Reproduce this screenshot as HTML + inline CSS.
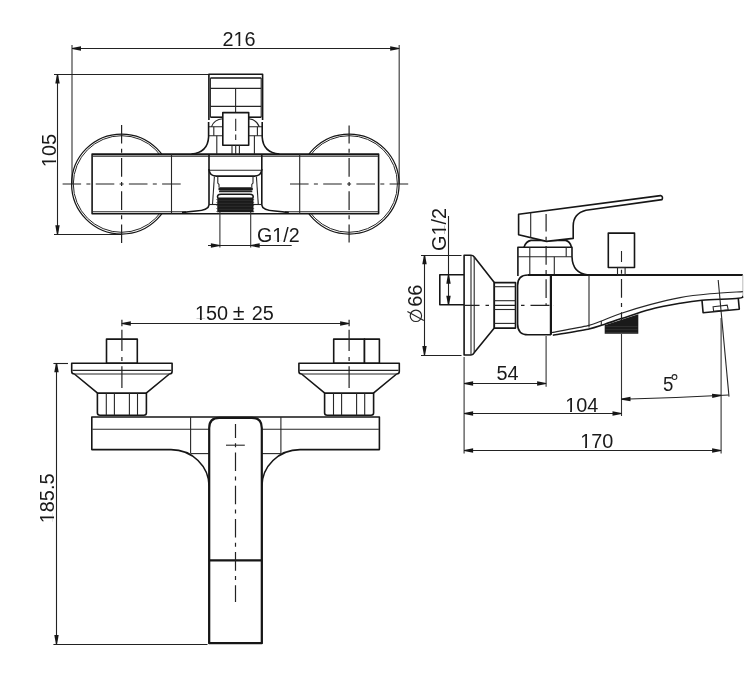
<!DOCTYPE html>
<html><head><meta charset="utf-8"><style>
html,body{margin:0;padding:0;background:#fff;width:748px;height:677px;overflow:hidden}
svg{display:block;will-change:transform}
.o{stroke:#161616;stroke-width:1.6;fill:none;stroke-linejoin:round}
.ob{stroke:#161616;stroke-width:2.2;fill:none;stroke-linejoin:round}
.t{stroke:#262626;stroke-width:1.1;fill:none}
.e{stroke:#333;stroke-width:1.1;fill:none}
.eg{stroke:#444;stroke-width:1.2;fill:none}
.e2{stroke:#aaa;stroke-width:0.8;fill:none}
.d{stroke:#222;stroke-width:1.1;fill:none}
.c{stroke:#222;stroke-width:1.2;fill:none;stroke-dasharray:18.6 5.3 4 5.3}
.wh{fill:#fff;stroke:none}
.ar{fill:#161616;stroke:none}
.rib{stroke:#3c3c3c;stroke-width:0.6;fill:none}
.fl{fill:#1a1a1a;stroke:none}
text{font-family:"Liberation Sans",sans-serif;fill:#1a1a1a}
</style></head><body>
<svg width="748" height="677" viewBox="0 0 748 677">
<line x1="72" y1="45" x2="72" y2="184" class="eg"/>
<line x1="399.2" y1="45" x2="399.2" y2="184" class="eg"/>
<line x1="72" y1="48.5" x2="399.2" y2="48.5" class="d"/>
<path d="M72,47.9 L81,46.3 L81,50.7 L72,49.1 Z" class="ar"/>
<path d="M399.2,49.1 L390.2,50.7 L390.2,46.3 L399.2,47.9 Z" class="ar"/>
<g transform="translate(239,45.7) scale(0.955,1)"><text x="0" y="0" font-size="20.8" text-anchor="middle">216</text><rect x="-4.95" y="-1.87" width="4.35" height="2.81" class="wh"/><rect x="1.31" y="-1.87" width="4.14" height="2.81" class="wh"/></g>
<line x1="54" y1="74.5" x2="208.9" y2="74.5" class="d"/>
<line x1="54" y1="234.5" x2="121.6" y2="234.5" class="d"/>
<line x1="57.5" y1="74.5" x2="57.5" y2="234.2" class="d"/>
<path d="M58.1,74.5 L59.7,83.5 L55.3,83.5 L56.9,74.5 Z" class="ar"/>
<path d="M56.9,234.2 L55.3,225.2 L59.7,225.2 L58.1,234.2 Z" class="ar"/>
<g transform="translate(55.6,150.6) rotate(-90) scale(0.955,1)"><text x="0" y="0" font-size="20.8" text-anchor="middle">105</text><rect x="-16.52" y="-1.87" width="4.35" height="2.81" class="wh"/><rect x="-10.25" y="-1.87" width="4.14" height="2.81" class="wh"/></g>
<circle cx="121.6" cy="184" r="50" class="o" style="stroke-width:1.25"/>
<circle cx="121.6" cy="184" r="48.3" class="t" style="stroke-width:1"/>
<circle cx="349.1" cy="184" r="50" class="o" style="stroke-width:1.25"/>
<circle cx="349.1" cy="184" r="48.3" class="t" style="stroke-width:1"/>
<rect x="92.1" y="154.1" width="286.5" height="59.6" class="o" style="fill:#fff"/>
<line x1="92.8" y1="156.1" x2="377.9" y2="156.1" class="t"/>
<line x1="92.8" y1="211.7" x2="186" y2="211.7" class="t"/>
<line x1="285" y1="211.7" x2="377.9" y2="211.7" class="t"/>
<line x1="171.5" y1="154.1" x2="171.5" y2="213.7" class="t"/>
<line x1="299.7" y1="154.1" x2="299.7" y2="213.7" class="t"/>
<line x1="62.6" y1="184" x2="181.7" y2="184" class="c" stroke-dashoffset="0.1"/>
<line x1="121.6" y1="125" x2="121.6" y2="243" class="c" stroke-dashoffset="0.1"/>
<line x1="290" y1="184" x2="409" y2="184" class="c" stroke-dashoffset="33.2"/>
<line x1="349.1" y1="125.4" x2="349.1" y2="242.4" class="c" stroke-dashoffset="0.5"/>
<path d="M208.9,120 L208.9,74.3 L262.6,74.3 L262.6,120" class="o" style="fill:#fff"/>
<line x1="210.4" y1="78" x2="261.2" y2="78" class="o"/>
<line x1="210.4" y1="78" x2="210.4" y2="117.2" class="t"/>
<line x1="261.2" y1="78" x2="261.2" y2="117.2" class="t"/>
<line x1="210.4" y1="88.4" x2="261.2" y2="88.4" class="t"/>
<line x1="210.4" y1="106.4" x2="261.2" y2="106.4" class="t"/>
<line x1="235.6" y1="88.4" x2="235.6" y2="112.6" class="t"/>
<line x1="210.4" y1="117.2" x2="222.8" y2="117.2" class="o"/>
<line x1="248.7" y1="117.2" x2="261.2" y2="117.2" class="o"/>
<path d="M208.6,126.8 L222.8,126.8 M208.6,135.7 L222.8,135.7" class="t"/>
<path d="M248.7,126.8 L262.2,126.8 M248.7,135.7 L262.2,135.7" class="t"/>
<line x1="213.8" y1="126.8" x2="213.8" y2="135.7" class="t"/>
<line x1="257.4" y1="126.8" x2="257.4" y2="135.7" class="t"/>
<path d="M211.5,126.8 Q214,119.5 222.8,118.8" class="t"/>
<path d="M259.3,126.8 Q256.8,119.5 248.7,118.8" class="t"/>
<line x1="216.8" y1="135.7" x2="216.8" y2="154.1" class="t"/>
<line x1="254.4" y1="135.7" x2="254.4" y2="154.1" class="t"/>
<path d="M208.6,122 L208.6,137 Q207.8,152.5 191.5,154.1" class="o"/>
<path d="M262.2,122 L262.2,137 Q263,152.5 279.3,154.1" class="o"/>
<rect x="222.8" y="112.6" width="25.9" height="32.7" class="o" style="fill:#fff"/>
<line x1="235.7" y1="118.8" x2="235.7" y2="131" class="t"/>
<line x1="235.7" y1="134.5" x2="235.7" y2="140" class="t"/>
<line x1="232" y1="145.3" x2="232" y2="154.1" class="t"/>
<line x1="239.4" y1="145.3" x2="239.4" y2="154.1" class="t"/>
<line x1="235.7" y1="145.3" x2="235.7" y2="154.1" class="t"/>
<path d="M209,154.1 L209,169.5 Q209.6,176.1 216.5,176.1 L254.3,176.1 Q261.2,176.1 261.8,169.5 L261.8,154.1" class="o"/>
<line x1="209.5" y1="170.3" x2="261.3" y2="170.3" class="t"/>
<path d="M209,169 L209,205 Q208.6,210.2 196,211 Q188,211.6 182,212.6" class="o"/>
<path d="M261.8,169 L261.8,205 Q262.2,210.2 274.8,211 Q282.8,211.6 288.8,212.6" class="o"/>
<line x1="214.4" y1="176.5" x2="212.5" y2="204.5" class="t"/>
<line x1="256.4" y1="176.5" x2="258.3" y2="204.5" class="t"/>
<line x1="209" y1="204.5" x2="219" y2="204.5" class="t"/>
<line x1="251.8" y1="204.5" x2="261.8" y2="204.5" class="t"/>
<path d="M217.8,176.5 L217.8,183 L219,184.5 L219,187.5" class="t"/>
<path d="M253,176.5 L253,183 L251.8,184.5 L251.8,187.5" class="t"/>
<rect x="218.3" y="187.2" width="34.7" height="3.6" rx="1.8" class="fl"/>
<line x1="219" y1="191.6" x2="252.3" y2="191.6" class="t"/>
<path d="M217.3,212.3 L217.3,197.5 L253.4,197.5 L253.4,212.3 Z" class="fl"/>
<path d="M217.8,198 Q216.5,194.3 221,194.3 L249.7,194.3 Q254.2,194.3 252.9,198" class="o"/>
<line x1="218.5" y1="200.3" x2="252.2" y2="200.3" class="rib"/>
<line x1="218.5" y1="203.3" x2="252.2" y2="203.3" class="rib"/>
<line x1="218.5" y1="206.3" x2="252.2" y2="206.3" class="rib"/>
<line x1="218.5" y1="209.3" x2="252.2" y2="209.3" class="rib"/>
<path d="M217.3,198.5 L216.4,199.5 L217.3,200.5 Z M253.4,198.5 L254.3,199.5 L253.4,200.5 Z" class="fl"/>
<path d="M217.3,201.5 L216.4,202.5 L217.3,203.5 Z M253.4,201.5 L254.3,202.5 L253.4,203.5 Z" class="fl"/>
<path d="M217.3,204.5 L216.4,205.5 L217.3,206.5 Z M253.4,204.5 L254.3,205.5 L253.4,206.5 Z" class="fl"/>
<path d="M217.3,207.5 L216.4,208.5 L217.3,209.5 Z M253.4,207.5 L254.3,208.5 L253.4,209.5 Z" class="fl"/>
<path d="M217.3,210.5 L216.4,211.5 L217.3,212.5 Z M253.4,210.5 L254.3,211.5 L253.4,212.5 Z" class="fl"/>
<line x1="219.9" y1="212" x2="219.9" y2="247.5" class="e"/>
<line x1="250.7" y1="212" x2="250.7" y2="247.5" class="e"/>
<line x1="208" y1="245.5" x2="291.7" y2="245.5" class="d"/>
<path d="M219.9,246.1 L210.9,247.7 L210.9,243.3 L219.9,244.9 Z" class="ar"/>
<path d="M250.7,244.9 L259.7,243.3 L259.7,247.7 L250.7,246.1 Z" class="ar"/>
<g transform="translate(257,242) scale(0.955,1)"><text x="0" y="0" font-size="20.6" text-anchor="start">G1/2</text><rect x="16.85" y="-1.85" width="4.31" height="2.78" class="wh"/><rect x="23.05" y="-1.85" width="4.1" height="2.78" class="wh"/></g>
<line x1="121.8" y1="323.5" x2="349.1" y2="323.5" class="d"/>
<path d="M121.8,322.9 L130.8,321.3 L130.8,325.7 L121.8,324.1 Z" class="ar"/>
<path d="M349.1,324.1 L340.1,325.7 L340.1,321.3 L349.1,322.9 Z" class="ar"/>
<g transform="translate(195,320.3) scale(0.955,1)"><text x="0" y="0" font-size="20.8" text-anchor="start">150</text><rect x="0.83" y="-1.87" width="4.35" height="2.81" class="wh"/><rect x="7.09" y="-1.87" width="4.14" height="2.81" class="wh"/></g>
<g transform="translate(238.6,320.3) scale(0.955,1)"><text x="0" y="0" font-size="22.5" text-anchor="middle">±</text></g>
<g transform="translate(251.8,320.3) scale(0.955,1)"><text x="0" y="0" font-size="20.8" text-anchor="start">25</text></g>
<line x1="53.4" y1="363.5" x2="68" y2="363.5" class="d"/>
<line x1="53.4" y1="644.5" x2="207.5" y2="644.5" class="d"/>
<line x1="56.5" y1="363.2" x2="56.5" y2="644.1" class="d"/>
<path d="M57.1,363.2 L58.7,372.2 L54.3,372.2 L55.9,363.2 Z" class="ar"/>
<path d="M55.9,644.1 L54.3,635.1 L58.7,635.1 L57.1,644.1 Z" class="ar"/>
<g transform="translate(54.1,498.4) rotate(-90) scale(0.955,1)"><text x="0" y="0" font-size="20.8" text-anchor="middle">185.5</text><rect x="-25.19" y="-1.87" width="4.35" height="2.81" class="wh"/><rect x="-18.93" y="-1.87" width="4.14" height="2.81" class="wh"/></g>
<rect x="106.5" y="339.1" width="30.8" height="24.1" class="o" style="fill:#fff"/>
<path d="M71.7,363.2 L172.1,363.2 L172.1,371.5 Q172.1,374 169.4,374 L146.2,393.2 L97.6,393.2 L74.4,374 Q71.7,374 71.7,371.5 Z" class="o" style="fill:#fff"/>
<line x1="72.4" y1="370.4" x2="171.4" y2="370.4" class="t"/>
<path d="M97.4,393.2 L146.4,393.2 L146.4,413 Q146.4,415.2 143.9,415.2 L99.9,415.2 Q97.4,415.2 97.4,413 Z" class="o" style="fill:#fff"/>
<line x1="106.3" y1="393.2" x2="106.3" y2="415.2" class="t"/>
<line x1="114.4" y1="393.2" x2="114.4" y2="415.2" class="t"/>
<line x1="129.4" y1="393.2" x2="129.4" y2="415.2" class="t"/>
<line x1="137.5" y1="393.2" x2="137.5" y2="415.2" class="t"/>
<line x1="121.9" y1="319.7" x2="121.9" y2="388.1" class="c" style="stroke-dasharray:6.5 3.5 21.3 5.9 4.1 5.3 21.8"/>
<line x1="74.4" y1="374" x2="169.4" y2="374" class="t"/>
<rect x="333.7" y="339.1" width="30.8" height="24.1" class="o" style="fill:#fff"/>
<rect x="364.5" y="339.1" width="14.9" height="24.1" class="o" style="fill:#fff"/>
<path d="M298.9,363.2 L399.3,363.2 L399.3,371.5 Q399.3,374 396.6,374 L373.4,393.2 L324.8,393.2 L301.6,374 Q298.9,374 298.9,371.5 Z" class="o" style="fill:#fff"/>
<line x1="299.6" y1="370.4" x2="398.6" y2="370.4" class="t"/>
<path d="M324.6,393.2 L373.6,393.2 L373.6,413 Q373.6,415.2 371.1,415.2 L327.1,415.2 Q324.6,415.2 324.6,413 Z" class="o" style="fill:#fff"/>
<line x1="333.5" y1="393.2" x2="333.5" y2="415.2" class="t"/>
<line x1="341.6" y1="393.2" x2="341.6" y2="415.2" class="t"/>
<line x1="356.6" y1="393.2" x2="356.6" y2="415.2" class="t"/>
<line x1="364.7" y1="393.2" x2="364.7" y2="415.2" class="t"/>
<line x1="349.1" y1="319.7" x2="349.1" y2="388.1" class="c" style="stroke-dasharray:6.5 3.5 21.3 5.9 4.1 5.3 21.8"/>
<line x1="301.6" y1="374" x2="396.6" y2="374" class="t"/>
<path d="M91.8,417 L379.4,417 L379.4,449.6 L300,449.6 A38.2,37.2 0 0,0 261.8,486.8 L261.8,643.2 L209.2,643.2 L209.2,486.8 A38.2,37.2 0 0,0 171,449.6 L91.8,449.6 Z" class="o" style="fill:#fff"/>
<line x1="92.3" y1="429.3" x2="378.9" y2="429.3" class="t"/>
<line x1="190.6" y1="417" x2="190.6" y2="453.6" class="t"/>
<line x1="280.9" y1="417" x2="280.9" y2="453.6" class="t"/>
<line x1="190.6" y1="453.6" x2="209.2" y2="453.6" class="t"/>
<line x1="261.8" y1="453.6" x2="280.9" y2="453.6" class="t"/>
<path d="M209.2,643.2 L209.2,428 Q209.2,417.8 219.2,417.8 L251.8,417.8 Q261.8,417.8 261.8,428 L261.8,643.2 Z" class="ob" style="fill:#fff"/>
<line x1="209.2" y1="560.4" x2="261.8" y2="560.4" class="ob"/>
<line x1="235.5" y1="424" x2="235.5" y2="602" class="c" stroke-dashoffset="4.7"/>
<line x1="226" y1="445.2" x2="244.8" y2="445.2" class="t"/>
<line x1="421" y1="255.5" x2="461.5" y2="255.5" class="d"/>
<line x1="421" y1="355.5" x2="461.5" y2="355.5" class="d"/>
<line x1="424.5" y1="255.2" x2="424.5" y2="355" class="d"/>
<path d="M425.1,255.2 L426.7,264.2 L422.3,264.2 L423.9,255.2 Z" class="ar"/>
<path d="M423.9,355 L422.3,346 L426.7,346 L425.1,355 Z" class="ar"/>
<g transform="translate(421.8,306.8) rotate(-90) scale(0.955,1)"><text x="0" y="0" font-size="20.8" text-anchor="start">66</text></g>
<circle cx="415.9" cy="315.8" r="5.7" class="t" style="stroke-width:1.15"/>
<line x1="407.4" y1="311.4" x2="423.8" y2="320.4" class="t"/>
<line x1="448.5" y1="216" x2="448.5" y2="304.8" class="d"/>
<path d="M449.1,274.8 L450.7,283.8 L446.3,283.8 L447.9,274.8 Z" class="ar"/>
<path d="M447.9,304.8 L446.3,295.8 L450.7,295.8 L449.1,304.8 Z" class="ar"/>
<g transform="translate(446.4,251) rotate(-90) scale(0.955,1)"><text x="0" y="0" font-size="20.8" text-anchor="start">G1/2</text><rect x="17.01" y="-1.87" width="4.35" height="2.81" class="wh"/><rect x="23.28" y="-1.87" width="4.14" height="2.81" class="wh"/></g>
<path d="M464.1,274.8 L439.8,274.8 L439.8,304.8 L464.1,304.8" class="o"/>
<path d="M464.1,255.2 L471,255.2 Q473,255.2 474.3,256.9 L494.3,282.6 L494.3,328.1 L474.3,352.6 Q473,355 471,355 L464.1,355 Z" class="o" style="fill:#fff"/>
<line x1="471" y1="255.2" x2="471" y2="355" class="t"/>
<line x1="474.2" y1="256.9" x2="474.2" y2="352.6" class="t"/>
<rect x="494.3" y="282.6" width="21.2" height="45.5" class="o" style="fill:#fff"/>
<line x1="494.3" y1="286.7" x2="515.5" y2="286.7" class="t"/>
<line x1="494.3" y1="300.7" x2="515.5" y2="300.7" class="t"/>
<line x1="494.3" y1="309.5" x2="515.5" y2="309.5" class="t"/>
<line x1="494.3" y1="323.4" x2="515.5" y2="323.4" class="t"/>
<line x1="464.1" y1="357" x2="464.1" y2="453.5" class="e"/>
<path d="M517.9,276 L517.9,247.2 L572,247.2 L572,256.8 Q572.5,273.5 588.3,275" class="o"/>
<line x1="517.9" y1="256.8" x2="572" y2="256.8" class="t"/>
<line x1="529.8" y1="247.2" x2="529.8" y2="275" class="t"/>
<line x1="554.3" y1="256.8" x2="554.3" y2="275" class="t"/>
<line x1="566.2" y1="247.2" x2="566.2" y2="256.8" class="t"/>
<path d="M524,247.2 Q526,241.2 531,240.4 L565.5,240.4 Q570,241.2 571.5,247.2" class="o"/>
<path d="M518.6,214.2 L660.5,195.6 Q663.5,196.5 662,199.6 L586,210.3 Q573.3,213.5 573.2,226 L573.2,238.4 L546.5,241.4 L518.6,234.7 Z" class="o" style="fill:#fff"/>
<line x1="530.7" y1="212.6" x2="530.7" y2="237.6" class="t"/>
<line x1="546.1" y1="214" x2="546.1" y2="305.2" class="c" stroke-dashoffset="1.1"/>
<line x1="464.5" y1="305.3" x2="553.6" y2="305.3" class="c" style="stroke-dasharray:15 6 3.5 6 20 6 3.5 6 19 4 12"/>
<path d="M550.9,275 L528,275 Q517.6,275 517.6,285.5 L517.6,324 Q517.6,334.8 528,334.8 L551,334.8" class="o"/>
<line x1="528" y1="275" x2="742.8" y2="275" class="ob"/>
<line x1="742.8" y1="275" x2="742.8" y2="296" class="e2"/>
<path d="M552,332.5 C558,331.35 580,327.43 588,325.6 C596,323.77 594.42,323.57 600,321.5 C605.58,319.43 613.17,316.02 621.5,313.2 C629.83,310.38 640.25,307.2 650,304.6 C659.75,302 670,299.4 680,297.6 C690,295.8 699.53,294.8 710,293.8 C720.47,292.8 737.33,291.97 742.8,291.6" class="t"/>
<path d="M552.8,335.2 C558.67,334.2 579.43,331 588,329.2 C596.57,327.4 598.62,326.17 604.2,324.4 C609.78,322.63 613.87,321.1 621.5,318.6 C629.13,316.1 640.25,311.95 650,309.4 C659.75,306.85 671.33,304.82 680,303.3 C688.67,301.78 692.28,301.13 702,300.3 C711.72,299.47 731.5,299 738.3,298.3 C745.1,297.6 742.05,296.47 742.8,296.1" class="o"/>
<line x1="550.9" y1="275" x2="550.9" y2="334.8" class="ob"/>
<line x1="589" y1="275" x2="589" y2="327.5" class="t"/>
<line x1="601.3" y1="321" x2="601.3" y2="325" class="t"/>
<rect x="608.3" y="233.1" width="26.2" height="34.4" class="o" style="fill:#fff"/>
<rect x="617.5" y="267.5" width="7.6" height="7.5" class="t"/>
<line x1="621.5" y1="251" x2="621.5" y2="262" class="t"/>
<line x1="621.5" y1="268" x2="621.5" y2="334" class="c" stroke-dashoffset="22.1"/>
<line x1="621.5" y1="334" x2="621.5" y2="416" class="e"/>
<path d="M604.7,333.7 L604.7,325.2 L638.3,314.3 L638.3,333.7 Z" class="fl"/>
<line x1="605.5" y1="326.5" x2="637.5" y2="326.5" class="rib"/>
<line x1="605.5" y1="329.6" x2="637.5" y2="329.6" class="rib"/>
<line x1="605.5" y1="332.5" x2="637.5" y2="332.5" class="rib"/>
<path d="M702,300.6 L703.1,312.7 L739.3,309.2 L738.3,298.6" class="o"/>
<path d="M713.1,306.7 L727.2,305.2 L728.2,309.7 L713.6,311.2 Z" class="t"/>
<line x1="718.2" y1="280" x2="729" y2="396.6" class="t"/>
<line x1="721.1" y1="318" x2="721.1" y2="453.6" class="e"/>
<line x1="546.1" y1="336" x2="546.1" y2="386.7" class="e"/>
<line x1="464.1" y1="383.5" x2="546.1" y2="383.5" class="d"/>
<path d="M464.1,382.9 L473.1,381.3 L473.1,385.7 L464.1,384.1 Z" class="ar"/>
<path d="M546.1,384.1 L537.1,385.7 L537.1,381.3 L546.1,382.9 Z" class="ar"/>
<g transform="translate(507.5,380.2) scale(0.955,1)"><text x="0" y="0" font-size="20.8" text-anchor="middle">54</text></g>
<line x1="464.1" y1="413.5" x2="621.5" y2="413.5" class="d"/>
<path d="M464.1,412.9 L473.1,411.3 L473.1,415.7 L464.1,414.1 Z" class="ar"/>
<path d="M621.5,414.1 L612.5,415.7 L612.5,411.3 L621.5,412.9 Z" class="ar"/>
<g transform="translate(581.7,411.8) scale(0.955,1)"><text x="0" y="0" font-size="20.8" text-anchor="middle">104</text><rect x="-16.52" y="-1.87" width="4.35" height="2.81" class="wh"/><rect x="-10.25" y="-1.87" width="4.14" height="2.81" class="wh"/></g>
<line x1="464.1" y1="450.5" x2="721.1" y2="450.5" class="d"/>
<path d="M464.1,449.9 L473.1,448.3 L473.1,452.7 L464.1,451.1 Z" class="ar"/>
<path d="M721.1,451.1 L712.1,452.7 L712.1,448.3 L721.1,449.9 Z" class="ar"/>
<g transform="translate(596.7,447.9) scale(0.955,1)"><text x="0" y="0" font-size="20.8" text-anchor="middle">170</text><rect x="-16.52" y="-1.87" width="4.35" height="2.81" class="wh"/><rect x="-10.25" y="-1.87" width="4.14" height="2.81" class="wh"/></g>
<path d="M621.5,399.2 Q675,398 728.7,395" class="d"/>
<path d="M621.49,398.6 L630.45,396.82 L630.54,401.22 L621.51,399.8 Z" class="ar"/>
<path d="M721.13,396 L712.23,398.09 L711.99,393.7 L721.07,394.8 Z" class="ar"/>
<g transform="translate(663,390.7) scale(0.955,1)"><text x="0" y="0" font-size="19.5" text-anchor="start">5</text></g>
<circle cx="674.5" cy="377" r="2.4" class="t" style="stroke-width:1.05"/>
</svg></body></html>
